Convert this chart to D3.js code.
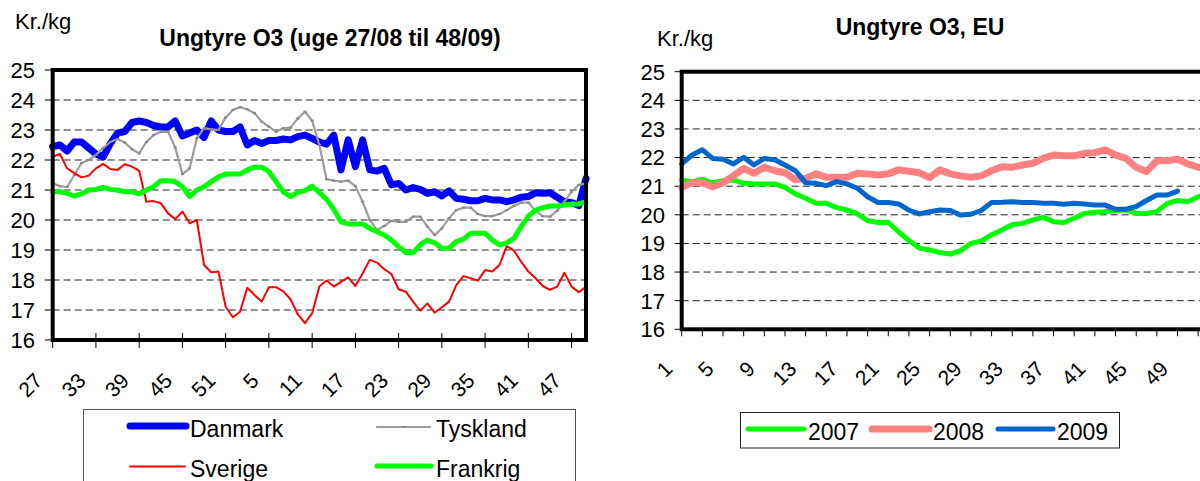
<!DOCTYPE html>
<html><head><meta charset="utf-8">
<script src="https://cdn.jsdelivr.net/npm/d3@7"></script>
<style>
html,body{margin:0;padding:0;background:#fff;}
svg{display:block;font-family:"Liberation Sans",Arial,sans-serif;}
</style></head><body>
<svg id="c" width="1200" height="481"></svg>
<script>
// ---------- DATA ----------
const weeksLeft = ["27","28","29","30","31","32","33","34","35","36","37","38","39","40","41","42","43","44","45","46","47","48","49","50","51","52",
  "1","2","3","4","5","6","7","8","9","10","11","12","13","14","15","16","17","18","19","20","21","22","23","24","25","26","27","28","29","30",
  "31","32","33","34","35","36","37","38","39","40","41","42","43","44","45","46","47","48","49"];
const danmark = [22.45,22.5,22.3,22.6,22.6,22.4,22.2,22.1,22.55,22.9,22.95,23.25,23.3,23.25,23.15,23.1,23.1,23.3,22.8,22.9,23.0,22.75,23.3,23.0,22.95,22.95,
  23.1,22.5,22.65,22.55,22.65,22.65,22.7,22.67,22.78,22.83,22.72,22.6,22.53,22.83,21.67,22.67,21.78,22.67,21.67,21.63,21.72,21.17,21.22,21.0,
  21.08,21.02,20.89,20.94,20.8,20.97,20.72,20.69,20.64,20.64,20.72,20.67,20.67,20.61,20.67,20.76,20.78,20.91,20.89,20.91,20.76,20.61,20.58,20.48,21.39];
const tyskland = [21.22,21.13,21.1,21.5,21.9,22.0,22.17,22.4,22.6,22.7,22.58,22.36,22.22,22.6,22.83,22.94,22.94,22.42,21.53,21.72,22.72,23.06,23.02,23.0,23.42,23.67,
  23.76,23.69,23.56,23.28,23.11,22.94,23.06,23.08,23.38,23.61,23.31,22.5,21.36,21.31,21.28,21.31,21.13,20.61,20.0,19.67,19.8,19.97,19.94,19.94,
  20.11,20.11,19.78,19.5,19.72,20.06,20.33,20.41,20.41,20.2,20.13,20.13,20.2,20.33,20.47,20.58,20.58,20.31,20.13,20.11,20.31,20.61,20.94,21.17,21.22];
const sverige = [22.11,22.2,21.72,21.56,21.42,21.48,21.72,21.87,21.7,21.67,21.86,21.78,21.64,20.61,20.63,20.56,20.22,20.03,20.28,19.89,20.0,18.5,18.26,18.28,17.11,16.76,
  16.94,17.74,17.5,17.28,17.76,17.76,17.62,17.36,16.86,16.56,16.89,17.78,17.98,17.78,17.94,18.09,17.8,18.22,18.67,18.58,18.36,18.2,17.69,17.61,
  17.28,16.98,17.22,16.91,17.09,17.28,17.83,18.13,18.06,17.98,18.33,18.28,18.5,19.13,18.98,18.61,18.28,18.06,17.8,17.67,17.78,18.24,17.78,17.59,17.78];
const frankrig = [20.94,20.94,20.89,20.8,20.87,21.0,21.02,21.09,21.02,21.0,20.94,20.94,20.87,21.0,21.11,21.31,21.31,21.28,21.11,20.78,21.0,21.11,21.28,21.44,21.53,21.53,
  21.53,21.67,21.76,21.76,21.61,21.28,20.94,20.78,20.92,20.98,21.13,20.91,20.69,20.36,19.94,19.87,19.87,19.87,19.72,19.61,19.5,19.33,19.11,18.91,
  18.91,19.17,19.33,19.24,19.06,19.06,19.28,19.36,19.56,19.56,19.56,19.33,19.17,19.24,19.39,19.78,20.13,20.33,20.41,20.47,20.47,20.5,20.53,20.53,20.61];

const weeksRight = ["1","2","3","4","5","6","7","8","9","10","11","12","13","14","15","16","17","18","19","20","21","22","23","24","25","26",
  "27","28","29","30","31","32","33","34","35","36","37","38","39","40","41","42","43","44","45","46","47","48","49","50","51","52"];
const y2007 = [21.22,21.16,21.24,21.12,21.19,21.22,21.1,21.08,21.08,21.08,20.96,20.73,20.58,20.4,20.4,20.25,20.17,20.03,19.8,19.73,
  19.74,19.4,19.1,18.84,18.77,18.68,18.63,18.75,19.0,19.09,19.3,19.47,19.65,19.7,19.82,19.91,19.76,19.73,19.88,20.05,
  20.09,20.11,20.15,20.17,20.05,20.05,20.11,20.4,20.5,20.46,20.63,20.75];
const y2008 = [20.96,21.12,21.12,20.98,21.12,21.36,21.62,21.45,21.66,21.54,21.47,21.22,21.28,21.43,21.31,21.31,21.31,21.45,21.43,21.39,
  21.43,21.57,21.52,21.47,21.3,21.57,21.43,21.36,21.31,21.36,21.54,21.68,21.66,21.74,21.8,21.97,22.09,22.06,22.06,22.15,
  22.17,22.27,22.09,21.97,21.66,21.51,21.89,21.89,21.94,21.78,21.66,21.6];
const y2009 = [21.78,22.09,22.27,21.97,21.94,21.78,22.01,21.74,21.97,21.92,21.74,21.54,21.12,21.1,21.02,21.16,21.08,20.93,20.63,20.43,
  20.43,20.38,20.16,20.03,20.11,20.17,20.15,19.99,20.02,20.15,20.43,20.44,20.46,20.43,20.43,20.4,20.4,20.37,20.4,20.38,
  20.34,20.34,20.19,20.19,20.29,20.5,20.69,20.69,20.83];

const yTicks = [16,17,18,19,20,21,22,23,24,25];
const gridVals = [17,18,19,20,21,22,23,24];

// ---------- DRAW ----------
const svg = d3.select("#c");
svg.append("rect").attr("width",1200).attr("height",481).attr("fill","#fff");
const FONT = 22;
const XFONT = 21;

function rotLabel(g, x, y, txt, size){
  g.append("text").attr("transform",`translate(${x},${y}) rotate(-45)`)
   .attr("text-anchor","end").attr("font-size",size).attr("fill","#000").text(txt);
}

// ===== LEFT CHART =====
const L = {x0:52.7, x1:586, y0:70, y1:340};
const xL = d3.scaleLinear().domain([0, weeksLeft.length-1]).range([L.x0, L.x1]);
const yL = d3.scaleLinear().domain([16,25]).range([L.y1, L.y0]);
const gl = svg.append("g");

gl.append("text").attr("x",15).attr("y",29).attr("font-size",FONT).text("Kr./kg");
gl.append("text").attr("x",330).attr("y",46).attr("text-anchor","middle")
  .attr("font-size",23).attr("font-weight","bold").text("Ungtyre O3 (uge 27/08 til 48/09)");

gl.selectAll(".grid").data(gridVals).join("line")
  .attr("x1",L.x0).attr("x2",L.x1).attr("y1",d=>yL(d)).attr("y2",d=>yL(d))
  .attr("stroke","#222").attr("stroke-width",1).attr("stroke-dasharray","7,4");

gl.selectAll(".yt").data(yTicks).join("line")
  .attr("x1",L.x0-8).attr("x2",L.x0).attr("y1",d=>yL(d)).attr("y2",d=>yL(d))
  .attr("stroke","#000").attr("stroke-width",1);
gl.selectAll(".yl").data(yTicks).join("text")
  .attr("x",35).attr("y",d=>yL(d)).attr("dy","0.36em").attr("text-anchor","end")
  .attr("font-size",FONT).text(d=>d);

const idxL = weeksLeft.map((w,i)=>i).filter(i=>i%6===0);
gl.selectAll(".xt").data(idxL).join("line")
  .attr("x1",d=>xL(d)).attr("x2",d=>xL(d)).attr("y1",L.y1-7).attr("y2",L.y1+8)
  .attr("stroke","#000").attr("stroke-width",1);
idxL.forEach(i=>rotLabel(gl, xL(i)-9, L.y1+42, weeksLeft[i], XFONT));

const lineL = d3.line().x((d,i)=>xL(i)).y(d=>yL(d));
const seriesL = [
  {name:"Danmark", data:danmark, color:"#0000FF", w:7},
  {name:"Tyskland", data:tyskland, color:"#9C9C9C", w:2.2},
  {name:"Sverige", data:sverige, color:"#FF0000", w:2},
  {name:"Frankrig", data:frankrig, color:"#00FF00", w:5}
];
seriesL.forEach(s=>{
  gl.append("path").attr("d",lineL(s.data)).attr("fill","none")
    .attr("stroke",s.color).attr("stroke-width",s.w)
    .attr("stroke-linejoin","round").attr("stroke-linecap","round");
  if(s.name==="Tyskland"){
    gl.selectAll(".mk").data(s.data).join("line")
      .attr("x1",(d,i)=>xL(i)-1.5).attr("x2",(d,i)=>xL(i)+1.5)
      .attr("y1",d=>yL(d)).attr("y2",d=>yL(d))
      .attr("stroke","#888").attr("stroke-width",2);
  }
});
gl.append("rect").attr("x",L.x0).attr("y",L.y0).attr("width",L.x1-L.x0).attr("height",L.y1-L.y0)
  .attr("fill","none").attr("stroke","#000").attr("stroke-width",4);

const lg = gl.append("g");
lg.append("rect").attr("x",83.5).attr("y",409.5).attr("width",492).attr("height",100)
  .attr("fill","#fff").attr("stroke","#555").attr("stroke-width",1);
const legL = [
  {s:seriesL[0], lx1:130, lx2:186, ly:426, tx:190, ty:437},
  {s:seriesL[1], lx1:377, lx2:430, ly:427, tx:436, ty:437},
  {s:seriesL[2], lx1:130, lx2:185, ly:466.5, tx:190, ty:477},
  {s:seriesL[3], lx1:377, lx2:431, ly:466, tx:436, ty:477}
];
legL.forEach(e=>{
  lg.append("line").attr("x1",e.lx1).attr("x2",e.lx2).attr("y1",e.ly).attr("y2",e.ly)
    .attr("stroke",e.s.color).attr("stroke-width",e.s.w).attr("stroke-linecap","round");
  if(e.s.name==="Tyskland"){
    lg.append("line").attr("x1",(e.lx1+e.lx2)/2-1.5).attr("x2",(e.lx1+e.lx2)/2+1.5)
      .attr("y1",e.ly).attr("y2",e.ly).attr("stroke","#888").attr("stroke-width",2);
  }
  lg.append("text").attr("x",e.tx).attr("y",e.ty).attr("font-size",23).text(e.s.name);
});

// ===== RIGHT CHART =====
const R = {x0:681.7, x1:1208.5, y0:71.7, y1:329.3};
const xR = d3.scaleLinear().domain([1, weeksRight.length]).range([R.x0, R.x1]);
const yR = d3.scaleLinear().domain([16,25]).range([R.y1, R.y0]);
const gr = svg.append("g");

gr.append("text").attr("x",657).attr("y",46).attr("font-size",FONT).text("Kr./kg");
gr.append("text").attr("x",920).attr("y",35).attr("text-anchor","middle")
  .attr("font-size",23).attr("font-weight","bold").text("Ungtyre O3, EU");

gr.selectAll(".grid").data(gridVals).join("line")
  .attr("x1",R.x0).attr("x2",R.x1).attr("y1",d=>yR(d)).attr("y2",d=>yR(d))
  .attr("stroke","#222").attr("stroke-width",1).attr("stroke-dasharray","7,4");
gr.selectAll(".yt").data(yTicks).join("line")
  .attr("x1",R.x0-7).attr("x2",R.x0).attr("y1",d=>yR(d)).attr("y2",d=>yR(d))
  .attr("stroke","#000").attr("stroke-width",1);
gr.selectAll(".yl").data(yTicks).join("text")
  .attr("x",665).attr("y",d=>yR(d)).attr("dy","0.36em").attr("text-anchor","end")
  .attr("font-size",FONT).text(d=>d);

const tickWeeksR = weeksRight.filter((w,i)=>i%2===0);
gr.selectAll(".xt").data(tickWeeksR).join("line")
  .attr("x1",d=>xR(+d)).attr("x2",d=>xR(+d)).attr("y1",R.y1).attr("y2",R.y1+7)
  .attr("stroke","#000").attr("stroke-width",1);
weeksRight.filter((w,i)=>i%4===0 && i<50).forEach(w=>rotLabel(gr, xR(+w)-8, R.y1+41, w, XFONT));

const lineR = d3.line().x((d,i)=>xR(i+1)).y(d=>yR(d));
const seriesR = [
  {name:"2007", data:y2007, color:"#00FF00", w:5},
  {name:"2008", data:y2008, color:"#FF8080", w:7},
  {name:"2009", data:y2009, color:"#0066CC", w:5}
];
seriesR.forEach(s=>{
  gr.append("path").attr("d",lineR(s.data)).attr("fill","none")
    .attr("stroke",s.color).attr("stroke-width",s.w)
    .attr("stroke-linejoin","round").attr("stroke-linecap","round");
});
gr.append("rect").attr("x",R.x0).attr("y",R.y0).attr("width",R.x1-R.x0).attr("height",R.y1-R.y0)
  .attr("fill","none").attr("stroke","#000").attr("stroke-width",4);

const rg = gr.append("g");
rg.append("rect").attr("x",740.5).attr("y",412.5).attr("width",379).attr("height",35.5)
  .attr("fill","#fff").attr("stroke","#222").attr("stroke-width",1);
const legR = [
  {s:seriesR[0], lx1:748, lx2:804, tx:808},
  {s:seriesR[1], lx1:872, lx2:929, tx:933},
  {s:seriesR[2], lx1:998, lx2:1053, tx:1057}
];
legR.forEach(e=>{
  rg.append("line").attr("x1",e.lx1).attr("x2",e.lx2).attr("y1",429).attr("y2",429)
    .attr("stroke",e.s.color).attr("stroke-width",e.s.w).attr("stroke-linecap","round");
  rg.append("text").attr("x",e.tx).attr("y",439.5).attr("font-size",23).text(e.s.name);
});
</script>
</body></html>
